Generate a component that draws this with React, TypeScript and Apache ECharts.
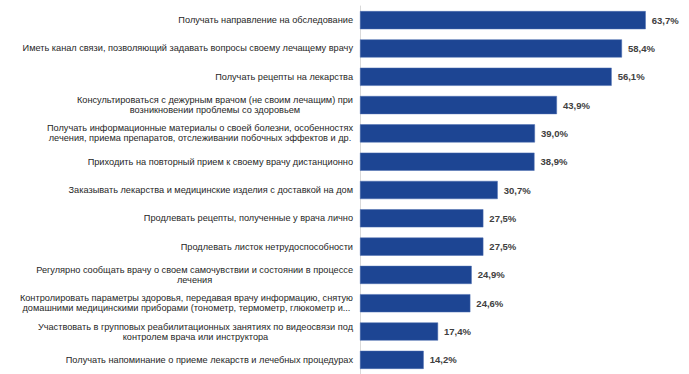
import React, { useEffect, useRef } from "react";
import * as echarts from "echarts";

const categories: string[] = [
  "Получать направление на обследование",
  "Иметь канал связи, позволяющий задавать вопросы своему лечащему врачу",
  "Получать рецепты на лекарства",
  "Консультироваться с дежурным врачом (не своим лечащим) при\nвозникновении проблемы со здоровьем",
  "Получать информационные материалы о своей болезни, особенностях\nлечения, приема препаратов, отслеживании побочных эффектов и др.",
  "Приходить на повторный прием к своему врачу дистанционно",
  "Заказывать лекарства и медицинские изделия с доставкой на дом",
  "Продлевать рецепты, полученные у врача лично",
  "Продлевать листок нетрудоспособности",
  "Регулярно сообщать врачу о своем самочувствии и состоянии в процессе\nлечения",
  "Контролировать параметры здоровья, передавая врачу информацию, снятую\nдомашними медицинскими приборами (тонометр, термометр, глюкометр и...",
  "Участвовать в групповых реабилитационных занятиях по видеосвязи под\nконтролем врача или инструктора",
  "Получать напоминание о приеме лекарств и лечебных процедурах",
];

const values: number[] = [63.7, 58.4, 56.1, 43.9, 39.0, 38.9, 30.7, 27.5, 27.5, 24.9, 24.6, 17.4, 14.2];

const LABEL_FONT = "Liberation Sans";
const LABEL_SIZE = 9.2;
const LABEL_GAP = 7;

export default function App() {
  const ref = useRef<HTMLDivElement>(null);
  useEffect(() => {
    if (!ref.current) return;
    const ctx = document.createElement("canvas").getContext("2d")!;
    ctx.font = `${LABEL_SIZE}px "${LABEL_FONT}"`;
    const blockWidths = categories.map((cat) =>
      Math.max(...cat.split("\n").map((l) => ctx.measureText(l).width))
    );
    const chart = echarts.init(ref.current, null, { renderer: "svg" });
    chart.setOption({
      animation: false,
      grid: { left: 360, right: 15, top: 6, bottom: 0, containLabel: false },
      xAxis: {
        type: "value",
        min: 0,
        max: 70,
        show: false,
      },
      yAxis: {
        type: "category",
        inverse: true,
        data: categories,
        axisLine: { show: true, lineStyle: { color: "#d9d9d9", width: 1 } },
        axisTick: { show: false },
        axisLabel: { show: false },
      },
      series: [
        {
          type: "bar",
          data: values,
          barCategoryGap: "36%",
          itemStyle: { color: "#1d4593", borderColor: "#4a6db0", borderWidth: 0.5 },
          label: {
            show: true,
            position: "right",
            distance: 6,
            color: "#404040",
            fontWeight: "bold",
            fontFamily: "Liberation Sans",
            fontSize: 9.5,
            formatter: (p: any) => p.value.toFixed(1).replace(".", ",") + "%",
          },
        },
        {
          type: "custom",
          silent: true,
          data: categories.map((_c, i) => i),
          renderItem: (params: any, api: any) => {
            const idx = params.dataIndex;
            const pt = api.coord([0, idx]);
            return {
              type: "text",
              x: pt[0] - LABEL_GAP - blockWidths[idx] / 2,
              y: pt[1],
              style: {
                text: categories[idx],
                fill: "#262626",
                fontFamily: LABEL_FONT,
                fontSize: LABEL_SIZE,
                lineHeight: 10,
                align: "center",
                verticalAlign: "middle",
              },
            };
          },
        },
      ],
    });
    return () => chart.dispose();
  }, []);
  return (
    <div
      ref={ref}
      style={{ position: "absolute", left: 0, top: 0, width: 689, height: 374, background: "#fff" }}
    />
  );
}
